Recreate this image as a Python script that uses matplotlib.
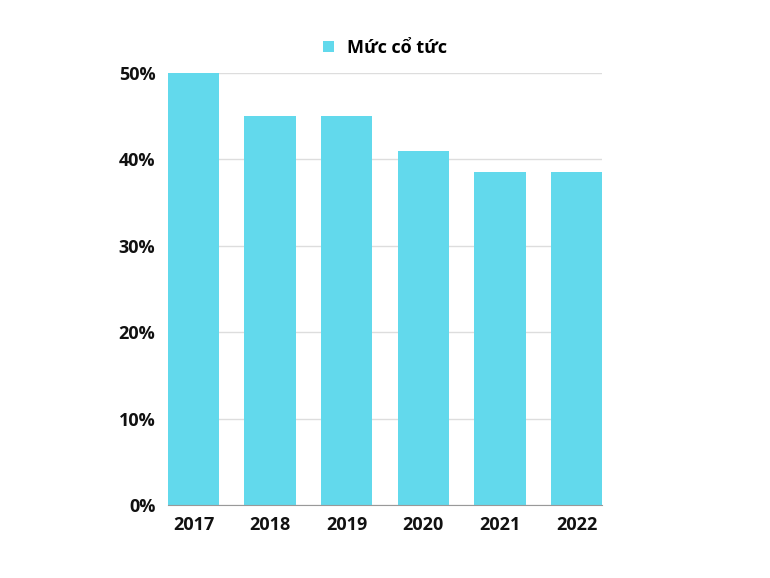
import matplotlib.pyplot as plt
from matplotlib.ticker import FuncFormatter

# Data
years = ["2017", "2018", "2019", "2020", "2021", "2022"]
dividend = [50, 45, 45, 41, 38.5, 38.5]
series_name = "Mức cổ tức"

plt.rcParams["font.family"] = ["Open Sans", "DejaVu Sans"]

fig = plt.figure(figsize=(7.7, 5.78), dpi=100)
ax = fig.add_axes([0.218, 0.1263, 0.564, 0.7474])

x = range(len(years))
ax.bar(x, dividend, width=0.67, color="#62d9ec", label=series_name, zorder=3)

ax.set_xlim(-0.335, len(years) - 1 + 0.335)
ax.set_ylim(0, 50)
ax.set_yticks([0, 10, 20, 30, 40, 50])
ax.yaxis.set_major_formatter(FuncFormatter(lambda v, p: f"{v:.0f}%"))
ax.set_xticks(list(x))
ax.set_xticklabels(years)

ax.grid(axis="y", color="#dddddd", linewidth=1, zorder=0)
for s in ["top", "right", "left"]:
    ax.spines[s].set_visible(False)
ax.spines["bottom"].set_color("#999999")
ax.spines["bottom"].set_zorder(4)
ax.tick_params(axis="both", length=0, labelsize=13, colors="#111111")
ax.tick_params(axis="y", pad=9)
ax.tick_params(axis="x", pad=8)
for lbl in ax.get_xticklabels() + ax.get_yticklabels():
    lbl.set_fontweight("bold")

leg = ax.legend(loc="lower center", bbox_to_anchor=(0.5, 1.0), frameon=False,
                handlelength=0.6, handleheight=0.6, handletextpad=0.7,
                prop={"weight": "bold", "size": 13})

fig.savefig("out.png", dpi=100)
